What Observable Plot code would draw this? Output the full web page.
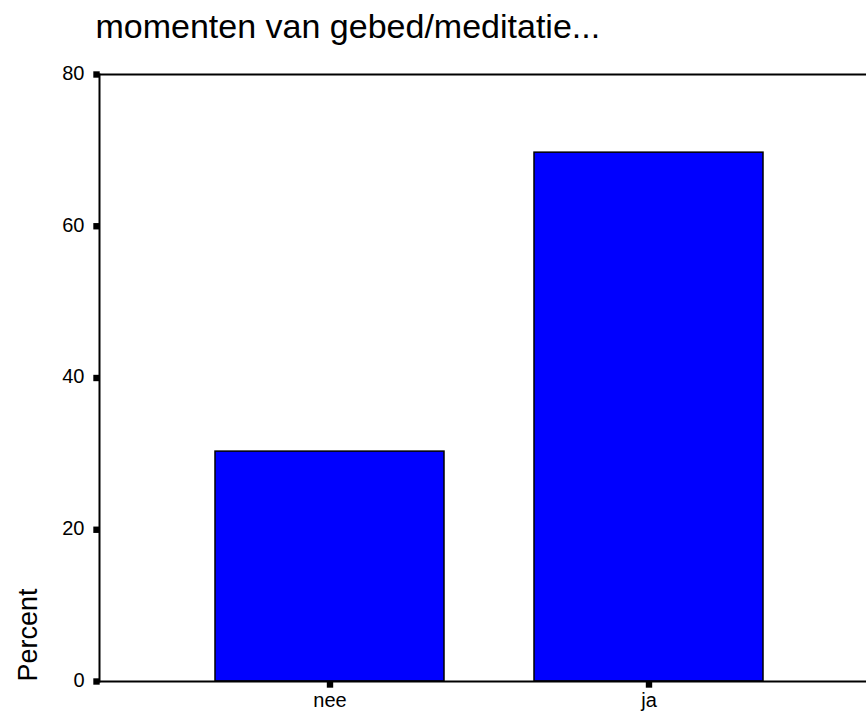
<!DOCTYPE html>
<html>
<head>
<meta charset="utf-8">
<script src="https://cdn.jsdelivr.net/npm/d3@7"></script>
<script src="https://cdn.jsdelivr.net/npm/@observablehq/plot@0.6"></script>
<style>
  html, body { margin: 0; padding: 0; background: #fff; overflow: hidden; }
  #chart { width: 866px; height: 717px; overflow: hidden; }
  #chart svg { max-width: none !important; }
</style>
</head>
<body>
<div id="chart"></div>
<script>
const categories = ["nee", "ja"];
const percents = [30.3, 69.7];
const yTicks = [0, 20, 40, 60, 80];
const titleText = "momenten van gebed/meditatie...";
const yLabel = "Percent";

const rows = categories.map((c, i) => ({category: c, percent: percents[i]}));

const chart = Plot.plot({
  width: 900,
  height: 717,
  marginLeft: 99,
  marginRight: 21,
  marginTop: 74,
  marginBottom: 36,
  style: {fontFamily: "'Liberation Sans', Arial, sans-serif", background: "#fff", color: "#000", maxWidth: "none"},
  x: {domain: categories, paddingInner: 0.282, paddingOuter: 0.363, align: 0.5, axis: null},
  y: {domain: [0, 80], axis: null},
  marks: [
    Plot.barY(rows, {x: "category", y: "percent", fill: "#0000ff", stroke: "#000", strokeWidth: 1.5}),
    Plot.ruleY([0, 80], {stroke: "#000", strokeWidth: 2}),
    Plot.frame({anchor: "left", stroke: "#000", strokeWidth: 2}),
    // y tick squares
    Plot.dot(yTicks, {y: d => d, frameAnchor: "left", dx: -3, symbol: "square", r: 3.6, fill: "#000", stroke: null}),
    // x tick squares
    Plot.dot(categories, {x: d => d, frameAnchor: "bottom", dy: 3, symbol: "square", r: 3.6, fill: "#000", stroke: null}),
    // y tick labels
    Plot.text(yTicks, {y: d => d, text: d => String(d), frameAnchor: "left", dx: -15, dy: -1, textAnchor: "end", fontSize: 20, fill: "#000"}),
    // x tick labels
    Plot.text(categories, {x: d => d, text: d => d, frameAnchor: "bottom", dy: 25, fontSize: 20, fill: "#000"}),
    // y axis label
    Plot.text([yLabel], {frameAnchor: "bottom-left", dx: -63, dy: 0, rotate: -90, textAnchor: "start", lineAnchor: "bottom", fontSize: 27, fill: "#000"}),
    // title
    Plot.text([titleText], {frameAnchor: "top-left", dx: -4, dy: -37, textAnchor: "start", lineAnchor: "bottom", fontSize: 34, fill: "#000"})
  ]
});
document.getElementById("chart").appendChild(chart);
</script>
</body>
</html>
